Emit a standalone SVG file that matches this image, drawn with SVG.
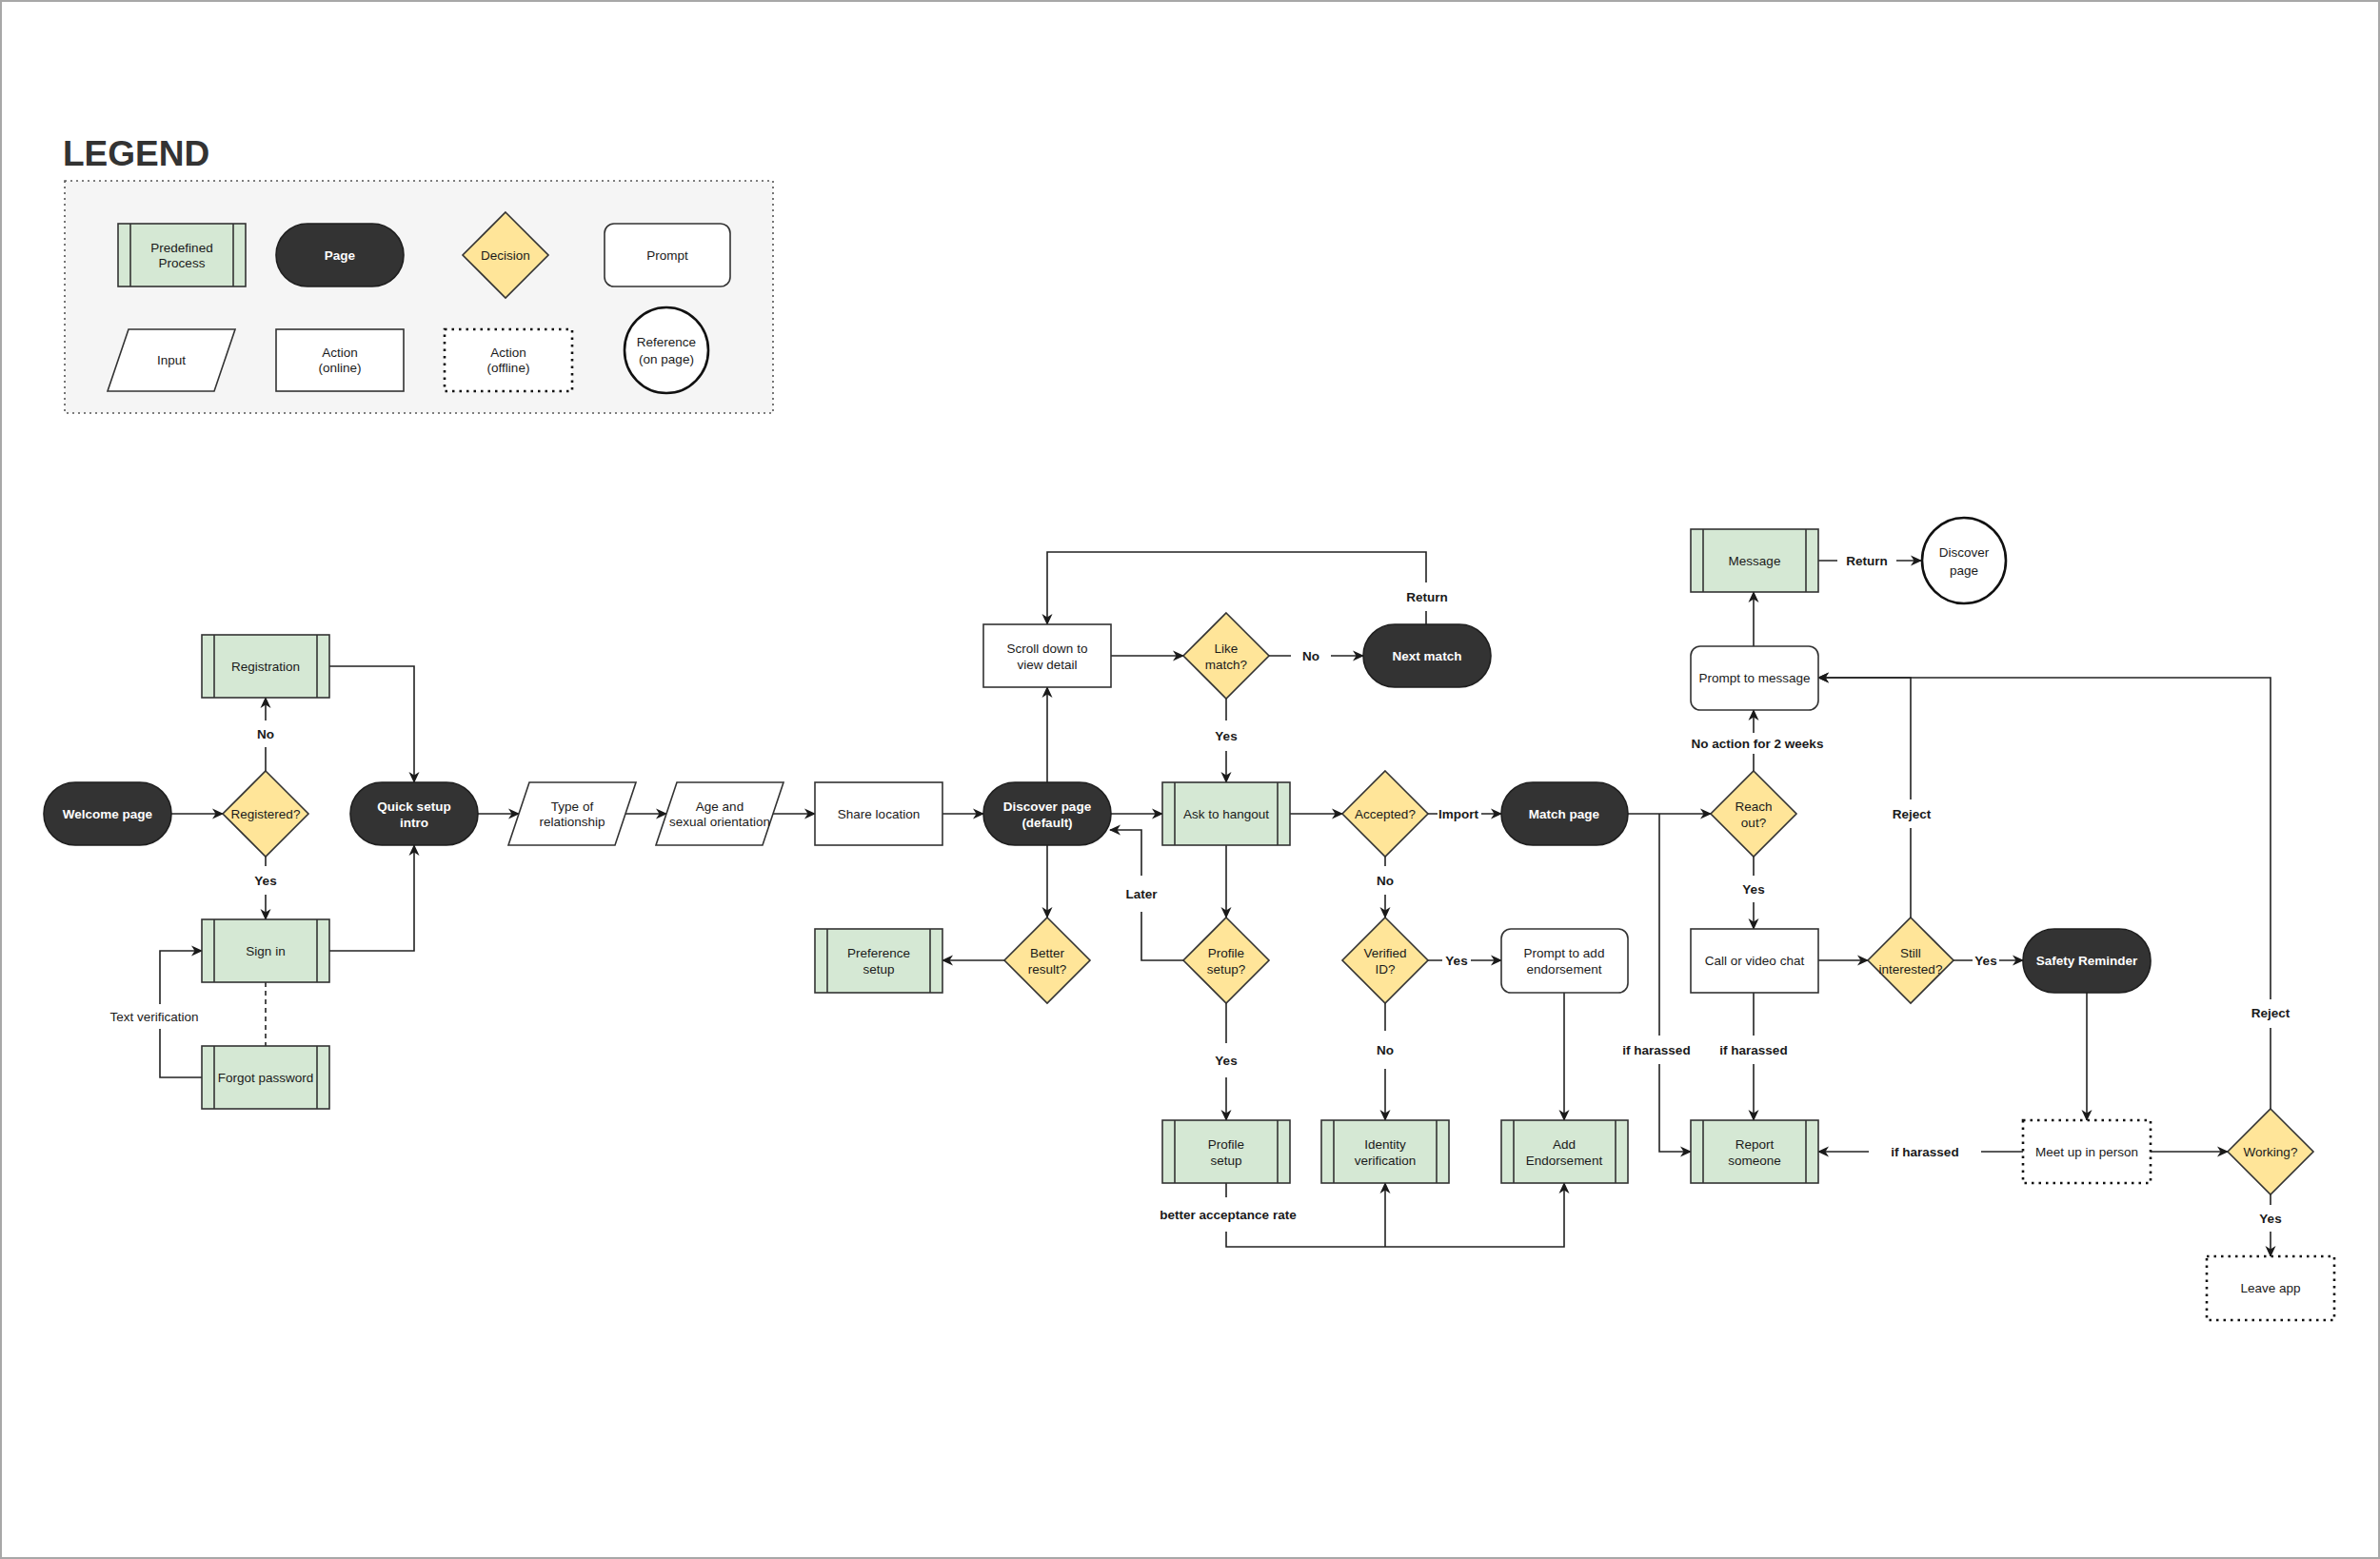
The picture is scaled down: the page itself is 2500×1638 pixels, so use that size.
<svg xmlns="http://www.w3.org/2000/svg" width="2500" height="1638" viewBox="0 0 2500 1638">
<defs>
<marker id="ah" viewBox="0 0 12 12" refX="11" refY="6" markerWidth="12" markerHeight="12" markerUnits="userSpaceOnUse" orient="auto">
<path d="M0,0.5 L12,6 L0,11.5 L3.5,6 Z" fill="#1a1a1a"/>
</marker>
<style>
.t{font-family:"Liberation Sans",Arial,Helvetica,sans-serif;font-size:13.5px;fill:#1a1a1a;text-anchor:middle;dominant-baseline:central}
.w{fill:#ffffff;font-weight:bold}
.b{font-weight:bold}
.pp{fill:#d5e8d4;stroke:#333;stroke-width:1.6}
.pl{stroke:#333;stroke-width:1.6}
.pg{fill:#333333;stroke:#1f1f1f;stroke-width:1.6}
.dc{fill:#ffe599;stroke:#333;stroke-width:1.6}
.ac{fill:#ffffff;stroke:#333;stroke-width:1.6}
.off{fill:#ffffff;stroke:#111;stroke-width:2.6;stroke-dasharray:2.5 5}
.ref{fill:#ffffff;stroke:#111;stroke-width:2.6}
.e{fill:none;stroke:#222;stroke-width:1.6;marker-end:url(#ah)}
.en{fill:none;stroke:#222;stroke-width:1.6}
.lbg{fill:#ffffff}
</style>
</defs>
<rect x="0" y="0" width="2500" height="1638" fill="#ffffff"/>
<rect x="1" y="1" width="2498" height="1636" fill="none" stroke="#a8a8a8" stroke-width="2"/>

<!-- Legend -->
<g id="legend">
<text x="66" y="174" font-family="'Liberation Sans',Arial,Helvetica,sans-serif" font-size="37" font-weight="bold" fill="#333">LEGEND</text>
<rect x="68" y="190" width="744" height="244" fill="#f5f5f5" stroke="#555" stroke-width="1.6" stroke-dasharray="2 4"/>
<g id="lg-pp"><rect class="pp" x="124" y="235" width="134" height="66"/><line class="pl" x1="137" y1="235" x2="137" y2="301"/><line class="pl" x1="245" y1="235" x2="245" y2="301"/><text class="t" x="191" y="260">Predefined</text><text class="t" x="191" y="276">Process</text></g>
<g id="lg-page"><rect class="pg" x="290" y="235" width="134" height="66" rx="33"/><text class="t w" x="357" y="268">Page</text></g>
<g id="lg-dec"><polygon class="dc" points="531,223 576,268 531,313 486,268"/><text class="t" x="531" y="268">Decision</text></g>
<g id="lg-prompt"><rect class="ac" x="635" y="235" width="132" height="66" rx="10"/><text class="t" x="701" y="268">Prompt</text></g>
<g id="lg-input"><polygon class="ac" points="135,346 247,346 225,411 113,411"/><text class="t" x="180" y="378">Input</text></g>
<g id="lg-aon"><rect class="ac" x="290" y="346" width="134" height="65"/><text class="t" x="357" y="370">Action</text><text class="t" x="357" y="386">(online)</text></g>
<g id="lg-aoff"><rect class="off" x="467" y="346" width="134" height="65"/><text class="t" x="534" y="370">Action</text><text class="t" x="534" y="386">(offline)</text></g>
<g id="lg-ref"><ellipse class="ref" cx="700" cy="368" rx="44" ry="45"/><text class="t" x="700" y="359">Reference</text><text class="t" x="700" y="377">(on page)</text></g>
</g>

<!-- Connectors -->
<g id="connectors">
<path class="e" d="M180,855 H234"/>
<path class="e" d="M279,810 V733"/>
<path class="e" d="M279,900 V966"/>
<path class="e" d="M346,700 H435 V822"/>
<path class="e" d="M346,999 H435 V888"/>
<path class="en" d="M279,1032 V1099" stroke-dasharray="5 4"/>
<path class="e" d="M212,1132 H168 V999 H212"/>
<path class="e" d="M501,855 H545"/>
<path class="e" d="M657,855 H700"/>
<path class="e" d="M812,855 H856"/>
<path class="e" d="M990,855 H1033"/>
<path class="e" d="M1166,855 H1221"/>
<path class="e" d="M1100,822 V722"/>
<path class="e" d="M1100,888 V964"/>
<path class="e" d="M1055,1009 H990"/>
<path class="e" d="M1166,689 H1243"/>
<path class="e" d="M1333,689 H1432"/>
<path class="e" d="M1498,656 V580 H1100 V656"/>
<path class="e" d="M1288,734 V822"/>
<path class="e" d="M1355,855 H1410"/>
<path class="e" d="M1500,855 H1577"/>
<path class="e" d="M1455,900 V964"/>
<path class="e" d="M1288,888 V964"/>
<path class="e" d="M1243,1009 H1199 V872 H1166"/>
<path class="e" d="M1288,1054 V1177"/>
<path class="e" d="M1500,1009 H1577"/>
<path class="e" d="M1455,1054 V1177"/>
<path class="e" d="M1643,1043 V1177"/>
<path class="e" d="M1288,1243 V1310 H1643 V1243"/>
<path class="e" d="M1455,1310 V1243"/>
<path class="e" d="M1710,855 H1797"/>
<path class="e" d="M1743,855 V1210 H1776"/>
<path class="e" d="M1842,810 V746"/>
<path class="e" d="M1842,900 V976"/>
<path class="e" d="M1842,679 V622"/>
<path class="e" d="M1910,589 H2018"/>
<path class="e" d="M1910,1009 H1962"/>
<path class="e" d="M2007,964 V712 H1910"/>
<path class="e" d="M2052,1009 H2125"/>
<path class="e" d="M1842,1043 V1177"/>
<path class="e" d="M2192,1043 V1177"/>
<path class="e" d="M2125,1210 H1910"/>
<path class="e" d="M2259,1210 H2340"/>
<path class="e" d="M2385,1165 V712 H1910"/>
<path class="e" d="M2385,1255 V1320"/>

<!-- edge labels -->
<rect class="lbg" x="266" y="757" width="26" height="28"/><text class="t b" x="279" y="771">No</text>
<rect class="lbg" x="264" y="910" width="30" height="30"/><text class="t b" x="279" y="925">Yes</text>
<rect class="lbg" x="110" y="1055" width="116" height="26"/><text class="t" x="162" y="1068">Text verification</text>
<rect class="lbg" x="1356" y="676" width="42" height="26"/><text class="t b" x="1377" y="689">No</text>
<rect class="lbg" x="1470" y="612" width="56" height="30"/><text class="t b" x="1499" y="627">Return</text>
<rect class="lbg" x="1272" y="757" width="32" height="32"/><text class="t b" x="1288" y="773">Yes</text>
<rect class="lbg" x="1510" y="845" width="46" height="20"/><text class="t b" x="1532" y="855">Import</text>
<rect class="lbg" x="1442" y="910" width="26" height="30"/><text class="t b" x="1455" y="925">No</text>
<rect class="lbg" x="1180" y="920" width="38" height="38"/><text class="t b" x="1199" y="939">Later</text>
<rect class="lbg" x="1272" y="1096" width="32" height="36"/><text class="t b" x="1288" y="1114">Yes</text>
<rect class="lbg" x="1515" y="999" width="30" height="20"/><text class="t b" x="1530" y="1009">Yes</text>
<rect class="lbg" x="1442" y="1083" width="26" height="40"/><text class="t b" x="1455" y="1103">No</text>
<rect class="lbg" x="1212" y="1258" width="156" height="36"/><text class="t b" x="1290" y="1276">better acceptance rate</text>
<rect class="lbg" x="1702" y="1088" width="76" height="30"/><text class="t b" x="1740" y="1103">if harassed</text>
<rect class="lbg" x="1776" y="770" width="140" height="22"/><text class="t b" x="1846" y="781">No action for 2 weeks</text>
<rect class="lbg" x="1828" y="920" width="28" height="28"/><text class="t b" x="1842" y="934">Yes</text>
<rect class="lbg" x="1930" y="576" width="62" height="26"/><text class="t b" x="1961" y="589">Return</text>
<rect class="lbg" x="1984" y="840" width="46" height="30"/><text class="t b" x="2008" y="855">Reject</text>
<rect class="lbg" x="2072" y="999" width="28" height="20"/><text class="t b" x="2086" y="1009">Yes</text>
<rect class="lbg" x="1804" y="1088" width="76" height="30"/><text class="t b" x="1842" y="1103">if harassed</text>
<rect class="lbg" x="1963" y="1198" width="118" height="24"/><text class="t b" x="2022" y="1210">if harassed</text>
<rect class="lbg" x="2362" y="1050" width="46" height="30"/><text class="t b" x="2385" y="1064">Reject</text>
<rect class="lbg" x="2370" y="1266" width="30" height="28"/><text class="t b" x="2385" y="1280">Yes</text>
</g>

<!-- Nodes -->
<g id="welcome"><rect class="pg" x="46" y="822" width="134" height="66" rx="33"/><text class="t w" x="113" y="855">Welcome page</text></g>
<g id="registered"><polygon class="dc" points="279,810 324,855 279,900 234,855"/><text class="t" x="279" y="855">Registered?</text></g>
<g id="registration"><rect class="pp" x="212" y="667" width="134" height="66"/><line class="pl" x1="225" y1="667" x2="225" y2="733"/><line class="pl" x1="333" y1="667" x2="333" y2="733"/><text class="t" x="279" y="700">Registration</text></g>
<g id="signin"><rect class="pp" x="212" y="966" width="134" height="66"/><line class="pl" x1="225" y1="966" x2="225" y2="1032"/><line class="pl" x1="333" y1="966" x2="333" y2="1032"/><text class="t" x="279" y="999">Sign in</text></g>
<g id="forgot"><rect class="pp" x="212" y="1099" width="134" height="66"/><line class="pl" x1="225" y1="1099" x2="225" y2="1165"/><line class="pl" x1="333" y1="1099" x2="333" y2="1165"/><text class="t" x="279" y="1132">Forgot password</text></g>
<g id="quicksetup"><rect class="pg" x="368" y="822" width="134" height="66" rx="33"/><text class="t w" x="435" y="847">Quick setup</text><text class="t w" x="435" y="864">intro</text></g>
<g id="type"><polygon class="ac" points="556,822 668,822 646,888 534,888"/><text class="t" x="601" y="847">Type of</text><text class="t" x="601" y="863">relationship</text></g>
<g id="age"><polygon class="ac" points="711,822 823,822 801,888 689,888"/><text class="t" x="756" y="847">Age and</text><text class="t" x="756" y="863">sexual orientation</text></g>
<g id="share"><rect class="ac" x="856" y="822" width="134" height="66"/><text class="t" x="923" y="855">Share location</text></g>
<g id="discover"><rect class="pg" x="1033" y="822" width="134" height="66" rx="33"/><text class="t w" x="1100" y="847">Discover page</text><text class="t w" x="1100" y="864">(default)</text></g>
<g id="scroll"><rect class="ac" x="1033" y="656" width="134" height="66"/><text class="t" x="1100" y="681">Scroll down to</text><text class="t" x="1100" y="698">view detail</text></g>
<g id="likematch"><polygon class="dc" points="1288,644 1333,689 1288,734 1243,689"/><text class="t" x="1288" y="681">Like</text><text class="t" x="1288" y="698">match?</text></g>
<g id="nextmatch"><rect class="pg" x="1432" y="656" width="134" height="66" rx="33"/><text class="t w" x="1499" y="689">Next match</text></g>
<g id="ask"><rect class="pp" x="1221" y="822" width="134" height="66"/><line class="pl" x1="1234" y1="822" x2="1234" y2="888"/><line class="pl" x1="1342" y1="822" x2="1342" y2="888"/><text class="t" x="1288" y="855">Ask to hangout</text></g>
<g id="accepted"><polygon class="dc" points="1455,810 1500,855 1455,900 1410,855"/><text class="t" x="1455" y="855">Accepted?</text></g>
<g id="matchpage"><rect class="pg" x="1577" y="822" width="133" height="66" rx="33"/><text class="t w" x="1643" y="855">Match page</text></g>
<g id="reachout"><polygon class="dc" points="1842,810 1887,855 1842,900 1797,855"/><text class="t" x="1842" y="847">Reach</text><text class="t" x="1842" y="864">out?</text></g>
<g id="promptmsg"><rect class="ac" x="1776" y="679" width="134" height="67" rx="10"/><text class="t" x="1843" y="712">Prompt to message</text></g>
<g id="message"><rect class="pp" x="1776" y="556" width="134" height="66"/><line class="pl" x1="1789" y1="556" x2="1789" y2="622"/><line class="pl" x1="1897" y1="556" x2="1897" y2="622"/><text class="t" x="1843" y="589">Message</text></g>
<g id="discoverref"><ellipse class="ref" cx="2063" cy="589" rx="44" ry="45"/><text class="t" x="2063" y="580">Discover</text><text class="t" x="2063" y="599">page</text></g>
<g id="betterresult"><polygon class="dc" points="1100,964 1145,1009 1100,1054 1055,1009"/><text class="t" x="1100" y="1001">Better</text><text class="t" x="1100" y="1018">result?</text></g>
<g id="preference"><rect class="pp" x="856" y="976" width="134" height="67"/><line class="pl" x1="869" y1="976" x2="869" y2="1043"/><line class="pl" x1="977" y1="976" x2="977" y2="1043"/><text class="t" x="923" y="1001">Preference</text><text class="t" x="923" y="1018">setup</text></g>
<g id="profilesetupq"><polygon class="dc" points="1288,964 1333,1009 1288,1054 1243,1009"/><text class="t" x="1288" y="1001">Profile</text><text class="t" x="1288" y="1018">setup?</text></g>
<g id="verifiedid"><polygon class="dc" points="1455,964 1500,1009 1455,1054 1410,1009"/><text class="t" x="1455" y="1001">Verified</text><text class="t" x="1455" y="1018">ID?</text></g>
<g id="promptendorse"><rect class="ac" x="1577" y="976" width="133" height="67" rx="10"/><text class="t" x="1643" y="1001">Prompt to add</text><text class="t" x="1643" y="1018">endorsement</text></g>
<g id="callvideo"><rect class="ac" x="1776" y="976" width="134" height="67"/><text class="t" x="1843" y="1009">Call or video chat</text></g>
<g id="stillinterested"><polygon class="dc" points="2007,964 2052,1009 2007,1054 1962,1009"/><text class="t" x="2007" y="1001">Still</text><text class="t" x="2007" y="1018">interested?</text></g>
<g id="safety"><rect class="pg" x="2125" y="976" width="134" height="67" rx="33"/><text class="t w" x="2192" y="1009">Safety Reminder</text></g>
<g id="profilesetup"><rect class="pp" x="1221" y="1177" width="134" height="66"/><line class="pl" x1="1234" y1="1177" x2="1234" y2="1243"/><line class="pl" x1="1342" y1="1177" x2="1342" y2="1243"/><text class="t" x="1288" y="1202">Profile</text><text class="t" x="1288" y="1219">setup</text></g>
<g id="identity"><rect class="pp" x="1388" y="1177" width="134" height="66"/><line class="pl" x1="1401" y1="1177" x2="1401" y2="1243"/><line class="pl" x1="1509" y1="1177" x2="1509" y2="1243"/><text class="t" x="1455" y="1202">Identity</text><text class="t" x="1455" y="1219">verification</text></g>
<g id="addendorse"><rect class="pp" x="1577" y="1177" width="133" height="66"/><line class="pl" x1="1590" y1="1177" x2="1590" y2="1243"/><line class="pl" x1="1697" y1="1177" x2="1697" y2="1243"/><text class="t" x="1643" y="1202">Add</text><text class="t" x="1643" y="1219">Endorsement</text></g>
<g id="report"><rect class="pp" x="1776" y="1177" width="134" height="66"/><line class="pl" x1="1789" y1="1177" x2="1789" y2="1243"/><line class="pl" x1="1897" y1="1177" x2="1897" y2="1243"/><text class="t" x="1843" y="1202">Report</text><text class="t" x="1843" y="1219">someone</text></g>
<g id="meetup"><rect class="off" x="2125" y="1177" width="134" height="66"/><text class="t" x="2192" y="1210">Meet up in person</text></g>
<g id="working"><polygon class="dc" points="2385,1165 2430,1210 2385,1255 2340,1210"/><text class="t" x="2385" y="1210">Working?</text></g>
<g id="leaveapp"><rect class="off" x="2318" y="1320" width="134" height="67"/><text class="t" x="2385" y="1353">Leave app</text></g>
</svg>
